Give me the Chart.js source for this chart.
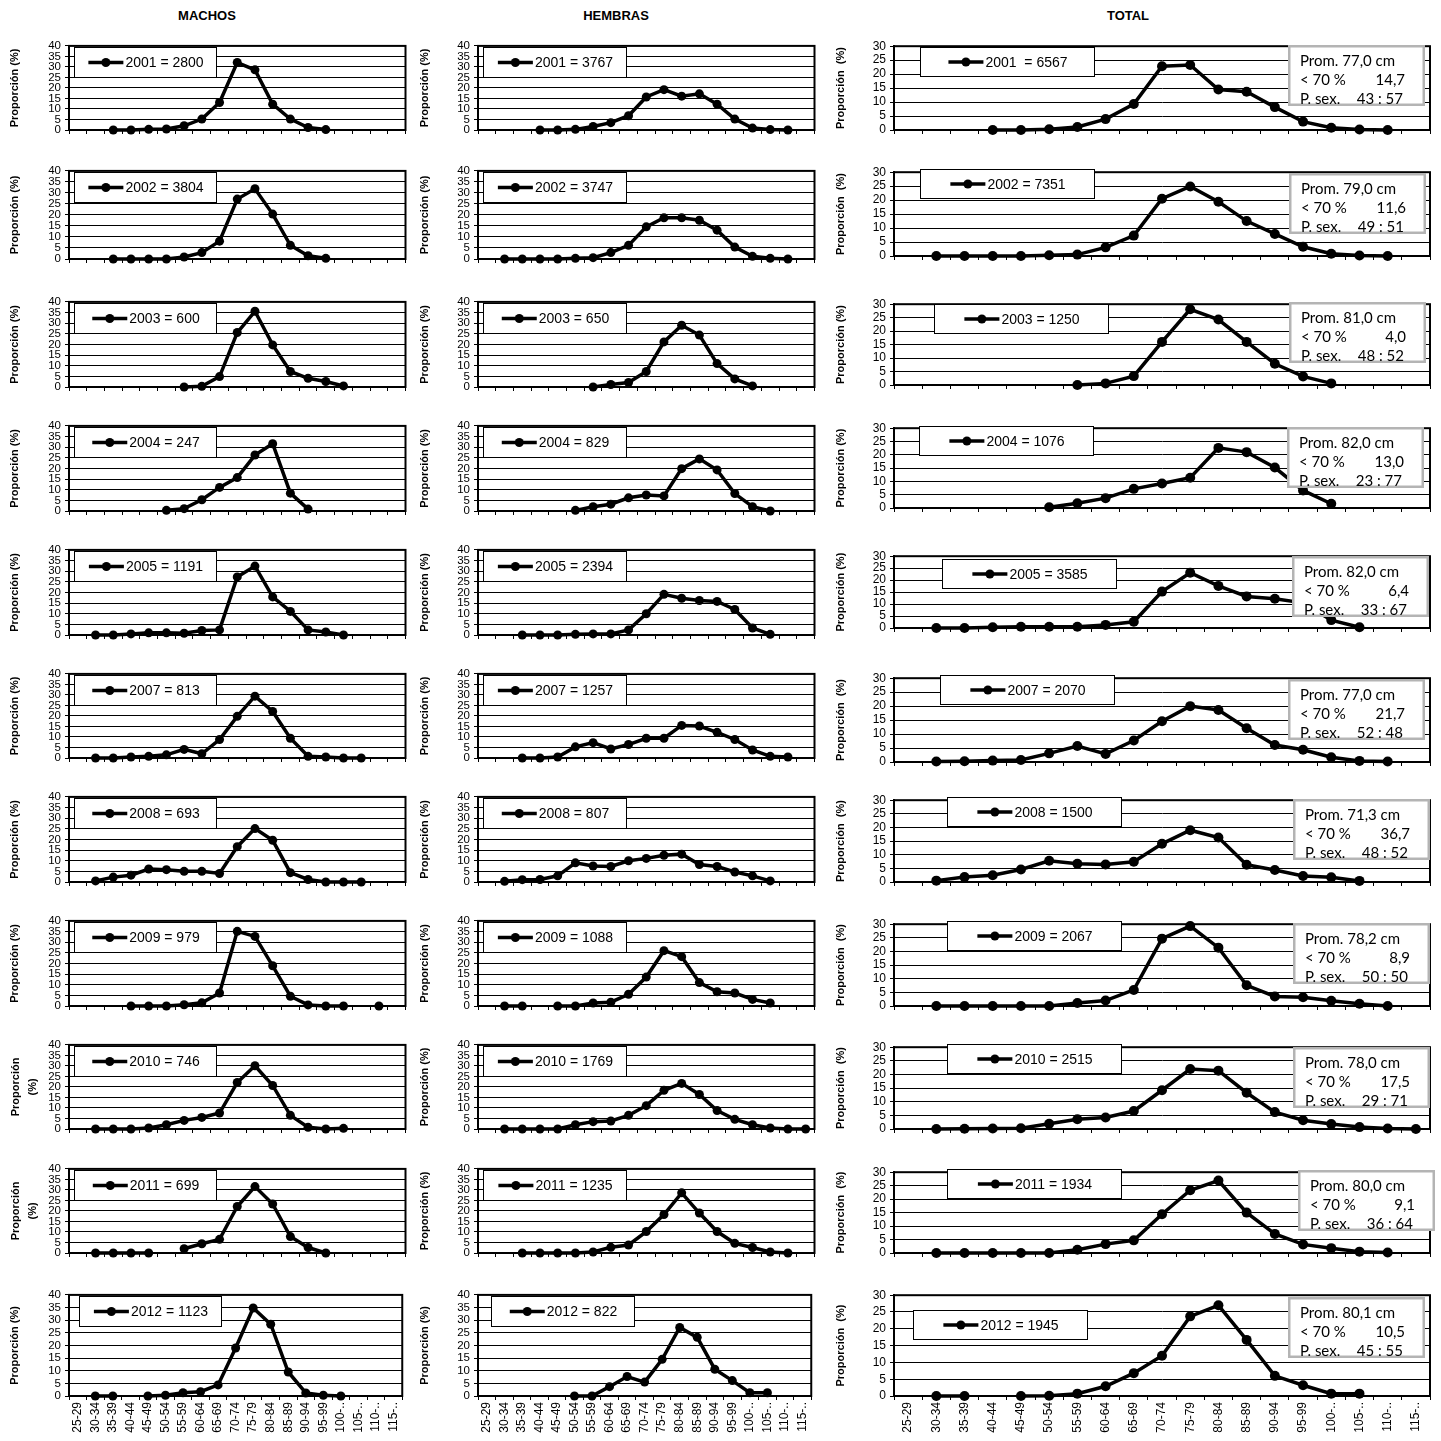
<!DOCTYPE html>
<html>
<head>
<meta charset="utf-8">
<script src="https://cdn.jsdelivr.net/npm/chart.js@4.4.1/dist/chart.umd.min.js"></script>
<style>
  body { margin:0; background:#fff; width:1441px; height:1441px; position:relative; overflow:hidden;
         font-family:"Liberation Sans", Arial, sans-serif; }
  .titulo { position:absolute; top:8px; font-weight:bold; font-size:13px; transform:translateX(-50%); }
  .panel { position:absolute; }
</style>
</head>
<body>
<div class="titulo" style="left:207px">MACHOS</div>
<div class="titulo" style="left:616px">HEMBRAS</div>
<div class="titulo" style="left:1128px">TOTAL</div>
<script>
// clases de talla (cm)
const clases = ['25-29','30-34','35-39','40-44','45-49','50-54','55-59','60-64','65-69','70-74',
                '75-79','80-84','85-89','90-94','95-99','100-..','105-..','110-..','115-..'];
const anios = ['2001','2002','2003','2004','2005','2007','2008','2009','2010','2011','2012'];

// numero de ejemplares medidos
const nMachos  = [2800, 3804, 600, 247, 1191, 813, 693, 979, 746, 699, 1123];
const nHembras = [3767, 3747, 650, 829, 2394, 1257, 807, 1088, 1769, 1235, 822];
const nTotal   = [6567, 7351, 1250, 1076, 3585, 2070, 1500, 2067, 2515, 1934, 1945];

// resumen del total
const promedio = ['77,0','79,0','81,0','82,0','82,0','77,0','71,3','78,2','78,0','80,0','80,1'];
const bajo70   = ['14,7','11,6','4,0','13,0','6,4','21,7','36,7','8,9','17,5','9,1','10,5'];
const propSex  = ['43 : 57','49 : 51','48 : 52','23 : 77','33 : 67','52 : 48','48 : 52','50 : 50','29 : 71','36 : 64','45 : 55'];

const n = null;
// Machos, proporcion (%) por clase
const m2001 = [n,n,0,0,0.3,0.5,2.0,5.2,13.1,32.1,28.6,12.3,5.2,1.2,0.2,n,n,n,n];
const m2002 = [n,n,0,0,0,0,0.9,2.9,8.1,27.2,31.9,20.4,6.2,1.5,0.3,n,n,n,n];
const m2003 = [n,n,n,n,n,n,0,0.3,4.9,25.6,35.6,19.8,7.3,4.1,2.6,0.5,n,n,n];
const m2004 = [n,n,n,n,n,0.3,1.1,5.3,11.1,15.7,26.3,31.6,8.4,0.9,n,n,n,n,n];
const m2005 = [n,0,0,0.5,1.0,1.0,0.8,2.1,2.4,27.3,32.4,17.9,11.1,2.4,1.4,0,n,n,n];
const m2007 = [n,0,0,0.5,0.8,1.5,4.1,2.0,8.8,19.8,29.4,22.1,9.4,0.8,0.5,0,0,n,n];
const m2008 = [n,0.5,2.3,3.2,6.1,5.8,5.0,5.0,4.0,16.6,25.1,19.6,4.4,1.2,0,0,0,n,n];
const m2009 = [n,n,n,0,0,0,0.6,1.5,6.1,35.1,32.7,18.9,4.6,0.5,0,0,n,0,n];
const m2010 = [n,0,0,0,0.5,2.0,4.1,5.5,7.6,22.1,30.1,20.7,6.5,0.8,0,0.3,n,n,n];
const m2011 = [n,0,0,0,0,n,2.0,4.4,6.5,22.1,31.6,23.3,7.8,2.6,0,n,n,n,n];
const m2012 = [n,0,0,n,0,0.3,1.3,1.7,4.4,19.0,34.8,28.4,9.5,1.2,0.3,0,n,n,n];

// Hembras
const h2001 = [n,n,n,0,0,0.3,1.7,3.5,6.8,15.7,19.2,16.1,17.2,12.3,5.2,0.9,0.2,0,n];
const h2002 = [n,0,0,0,0,0.3,0.6,2.9,6.2,14.6,18.7,18.7,17.6,13.1,5.4,1.2,0.3,0,n];
const h2003 = [n,n,n,n,n,n,0,1.2,2.1,7.3,21.2,29.0,24.4,11.0,3.8,0.5,n,n,n];
const h2004 = [n,n,n,n,n,0.3,2.0,3.2,6.2,7.5,7.1,19.9,24.5,19.3,8.2,2.0,0,n,n];
const h2005 = [n,n,0,0,0,0.3,0.5,0.5,2.4,10.0,19.1,17.3,16.2,15.8,12.0,3.3,0.3,n,n];
const h2007 = [n,n,0,0,0.5,5.3,7.3,4.3,6.4,9.4,9.4,15.5,15.2,12.2,8.8,3.8,0.8,0.5,n];
const h2008 = [n,0.3,1.1,1.2,2.9,9.0,7.5,7.3,10.0,11.1,12.6,13.1,8.2,7.3,4.7,2.9,0.5,n,n];
const h2009 = [n,0,0,n,0,0,1.4,1.8,5.5,13.6,26.0,23.2,11.0,6.7,6.1,3.1,1.4,n,n];
const h2010 = [n,0,0,0,0,2.0,3.5,3.8,6.5,11.1,18.4,21.7,16.4,8.8,4.6,2.0,0.5,0,0];
const h2011 = [n,n,0,0,0,0,0.5,2.7,3.8,10.2,18.3,28.6,19.0,10.2,4.6,2.6,0.5,0,n];
const h2012 = [n,n,n,n,n,0,0,3.7,7.7,5.5,14.5,27.1,23.2,10.6,6.1,1.3,1.3,n,n];

// Total
const t2001 = [n,n,n,0,0,0.3,1.1,3.9,9.3,22.8,23.3,14.5,13.7,8.2,3.0,0.8,0.2,0,n];
const t2002 = [n,0,0,0,0,0.3,0.5,3.1,7.3,20.5,24.9,19.4,12.5,7.9,3.3,0.8,0.2,0,n];
const t2003 = [n,n,n,n,n,n,0,0.6,3.3,16.0,28.1,24.3,16.0,7.9,3.2,0.6,n,n,n];
const t2004 = [n,n,n,n,n,0.3,1.8,3.7,7.2,9.2,11.4,22.6,21.0,15.2,6.6,1.6,n,n,n];
const t2005 = [n,0,0,0.3,0.5,0.5,0.5,1.3,2.6,15.2,23.1,17.6,13.2,12.2,10.5,3.3,0.3,n,n];
const t2007 = [n,0.2,0.3,0.5,0.7,3.1,5.7,2.9,7.7,14.6,20.0,18.6,12.1,6.1,4.4,1.7,0.4,0.2,n];
const t2008 = [n,0.5,1.8,2.5,4.6,7.8,6.7,6.4,7.4,14.0,19.0,16.3,6.3,4.4,2.2,1.7,0.4,n,n];
const t2009 = [n,0,0,0,0,0,1.1,2.0,5.9,24.7,29.3,21.4,7.6,3.5,3.2,1.9,0.8,0,n];
const t2010 = [n,0,0.1,0.2,0.3,1.9,3.6,4.2,6.6,14.2,22.0,21.4,13.3,6.2,3.2,1.8,0.7,0.2,0];
const t2011 = [n,0,0,0,0,0,1.2,3.3,4.7,14.4,23.3,26.9,15.0,7.1,3.2,1.8,0.5,0.2,n];
const t2012 = [n,0,0,n,0,0.1,0.7,2.9,6.8,12.0,23.7,27.0,16.7,6.0,3.2,0.7,0.7,n,n];

const seriesMachos  = [m2001,m2002,m2003,m2004,m2005,m2007,m2008,m2009,m2010,m2011,m2012];
const seriesHembras = [h2001,h2002,h2003,h2004,h2005,h2007,h2008,h2009,h2010,h2011,h2012];
const seriesTotal   = [t2001,t2002,t2003,t2004,t2005,t2007,t2008,t2009,t2010,t2011,t2012];

// ---- disposicion de la pagina ----
const PAD_TOP = 8;
const filasMH = { tops: [43,168,299,423,547,671,794,918,1042,1166,1292],
                  bots: [130,259,387,511,635,758,882,1006,1129,1253,1396] };
const filasT  = { tops: [43,169,301,425,553,675,797,921,1044,1169,1292],
                  bots: [130,256,385,508,628,762,882,1006,1129,1253,1396] };

const colMachos  = { left: 0,   plotLeft: 69,  plotRight: 407,  padRight: 3, yMax: 40, filas: filasMH, radio: 4.5,
                     tickFont: 11.5,
                     leyX: [74,74,74,74,74,74,74,74,74,74,79], leyW: 143,
                     leyY: [47,172,303,427,551,675,798,922,1046,1170,1296], leyH: 31 };
const colHembras = { left: 410, plotLeft: 478, plotRight: 816,  padRight: 3, yMax: 40, filas: filasMH, radio: 4.5,
                     tickFont: 11.5,
                     leyX: [483,483,483,483,483,483,483,483,483,483,491], leyW: 144,
                     leyY: [47,172,303,427,551,675,798,922,1046,1170,1296], leyH: 31 };
const colTotal   = { left: 826, plotLeft: 894, plotRight: 1430, padRight: 7, yMax: 30, filas: filasT, radio: 5,
                     tickFont: 12,
                     leyX: [920,920,934,919,942,940,947,947,947,947,913], leyW: 175,
                     leyY: [47,169,304,426,559,675,797,921,1044,1169,1310], leyH: 30,
                     resX: [1288,1289,1289,1287,1292,1288,1293,1293,1293,1298,1288],
                     resY: [45,173,302,427,556,679,799,923,1047,1170,1297], resW: 137, resH: 61 };

const tituloY = 'Proporción (%)';
const tituloY2 = 'Proporción  (%)';

Chart.defaults.font.family = '"Liberation Sans", Arial, sans-serif';
Chart.defaults.color = '#000';

// marco negro del area de trazado
const marco = {
  id: 'marco',
  beforeDatasetsDraw(chart) {
    const { ctx, chartArea: a } = chart;
    ctx.save();
    ctx.strokeStyle = '#000';
    ctx.lineWidth = 2;
    ctx.strokeRect(a.left, a.top, a.right - a.left, a.bottom - a.top);
    ctx.restore();
  }
};

// leyenda tipo excel y cuadro de resumen
const cajas = {
  id: 'cajas',
  afterDraw(chart, args, o) {
    const ctx = chart.ctx;
    const ley = o.leyenda;
    if (ley) {
      ctx.save();
      ctx.fillStyle = '#fff';
      ctx.fillRect(ley.x, ley.y, ley.w, ley.h);
      ctx.strokeStyle = '#000';
      ctx.lineWidth = 1;
      ctx.strokeRect(ley.x + 0.5, ley.y + 0.5, ley.w - 1, ley.h - 1);
      ctx.font = '14px "Liberation Sans", Arial, sans-serif';
      const tw = ctx.measureText(ley.texto).width;
      const x0 = ley.x + (ley.w - (36 + tw)) / 2;
      const yc = ley.y + ley.h / 2;
      ctx.lineWidth = 3.5;
      ctx.beginPath(); ctx.moveTo(x0, yc); ctx.lineTo(x0 + 35, yc); ctx.stroke();
      ctx.fillStyle = '#000';
      ctx.beginPath(); ctx.arc(x0 + 17.5, yc, 4.5, 0, Math.PI * 2); ctx.fill();
      ctx.textBaseline = 'middle';
      ctx.fillText(ley.texto, x0 + 37, yc + 1);
      ctx.restore();
    }
    const r = o.resumen;
    if (r) {
      ctx.save();
      ctx.fillStyle = '#fff';
      ctx.fillRect(r.x, r.y, r.w, r.h);
      ctx.strokeStyle = '#b4b4b4';
      ctx.lineWidth = 2.5;
      ctx.strokeRect(r.x + 1.25, r.y + 1.25, r.w - 2.5, r.h - 2.5);
      ctx.fillStyle = '#000';
      ctx.font = '15px Lato, "Open Sans", sans-serif';
      ctx.textBaseline = 'middle';
      ctx.textAlign = 'left';
      ctx.fillText('Prom. ' + r.prom + ' cm', r.x + 12, r.y + 16);
      ctx.fillText('< 70 %', r.x + 12, r.y + 35);
      ctx.fillText('P. sex.', r.x + 12, r.y + 54);
      ctx.textAlign = 'right';
      ctx.fillText(r.bajo, r.x + r.w - 20, r.y + 35);
      ctx.fillText(r.sex, r.x + r.w - 22, r.y + 54);
      ctx.restore();
    }
  }
};

function panel(col, f, datos, titulo, textoLey, resumen) {
  const ultima = f === anios.length - 1;
  const top = col.filas.tops[f] - PAD_TOP;
  const altoEje = ultima ? 50 : 12;
  const h = col.filas.bots[f] - col.filas.tops[f] + PAD_TOP + altoEje;
  const w = col.plotRight - col.left + col.padRight;
  const anchoY = col.plotLeft - col.left;

  const div = document.createElement('div');
  div.className = 'panel';
  div.style.cssText = `left:${col.left}px;top:${top}px;width:${w}px;height:${h}px`;
  const cv = document.createElement('canvas');
  div.appendChild(cv);
  document.body.appendChild(div);

  const dosLineas = Array.isArray(titulo);
  const opcionesCajas = {
    leyenda: { x: col.leyX[f] - col.left, y: col.leyY[f] - top, w: col.leyW, h: col.leyH, texto: textoLey }
  };
  if (resumen) {
    opcionesCajas.resumen = { x: col.resX[f] - col.left, y: col.resY[f] - top, w: col.resW, h: col.resH,
                              prom: resumen[0], bajo: resumen[1], sex: resumen[2] };
  }

  return new Chart(cv, {
    type: 'line',
    data: {
      labels: clases,
      datasets: [{
        data: datos,
        borderColor: '#000',
        backgroundColor: '#000',
        borderWidth: 3.5,
        pointRadius: col.radio,
        pointBackgroundColor: '#000',
        pointBorderColor: '#000',
        pointBorderWidth: 0,
        tension: 0,
        spanGaps: false,
        clip: false
      }]
    },
    options: {
      responsive: true,
      maintainAspectRatio: false,
      animation: false,
      devicePixelRatio: 1,
      layout: { padding: { top: PAD_TOP, right: col.padRight, left: 0, bottom: 0 } },
      plugins: { legend: { display: false }, tooltip: { enabled: false }, cajas: opcionesCajas },
      scales: {
        x: {
          offset: true,
          grid: { display: true, drawOnChartArea: false, drawTicks: true, tickLength: 4, offset: true, color: '#000' },
          border: { display: true, color: '#000', width: 2 },
          ticks: { display: ultima, autoSkip: false, minRotation: 90, maxRotation: 90, padding: 2,
                   font: { size: 12 }, color: '#000' },
          afterFit(s) { s.height = altoEje; }
        },
        y: {
          min: 0, max: col.yMax,
          grid: { color: '#000', lineWidth: 1, drawTicks: true, tickLength: 4 },
          border: { display: true, color: '#000', width: 2 },
          ticks: { stepSize: 5, autoSkip: false, padding: 4, font: { size: col.tickFont }, color: '#000' },
          title: {
            display: true, text: titulo, color: '#000',
            font: { size: 11, weight: 'bold', lineHeight: dosLineas ? 1.6 : 1.2 },
            padding: { top: dosLineas ? 7 : 8.5, bottom: 0 }
          },
          afterFit(s) { s.width = anchoY; }
        }
      }
    },
    plugins: [marco, cajas]
  });
}

anios.forEach((a, f) => {
  const tM = (f === 8 || f === 9) ? ['Proporción', '(%)'] : tituloY;
  panel(colMachos, f, seriesMachos[f], tM, a + ' = ' + nMachos[f]);
  panel(colHembras, f, seriesHembras[f], tituloY, a + ' = ' + nHembras[f]);
  const tT = (f >= 2 && f <= 4) ? tituloY : tituloY2;
  const sepT = f === 0 ? '  = ' : ' = ';
  panel(colTotal, f, seriesTotal[f], tT, a + sepT + nTotal[f], [promedio[f], bajo70[f], propSex[f]]);
});
</script>
</body>
</html>
